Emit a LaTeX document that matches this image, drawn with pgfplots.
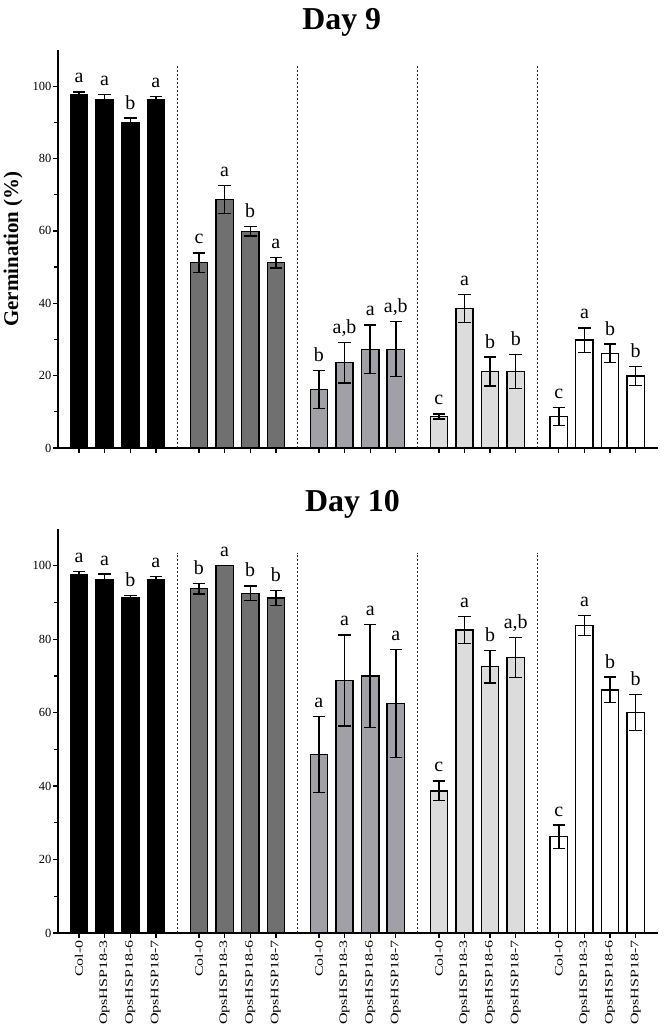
\documentclass[border=0pt]{standalone}
\usepackage{fontspec}
\setmainfont{Liberation Serif}
\newfontfamily\xtfont[FakeStretch=1.4]{Liberation Serif}
\usepackage{pgfplots}
\usepackage{pgfplotstable}
\pgfplotsset{compat=1.18}

\definecolor{gA}{RGB}{0,0,0}
\definecolor{gB}{RGB}{112,112,112}
\definecolor{gC}{RGB}{160,160,166}
\definecolor{gD}{RGB}{220,220,220}
\definecolor{gE}{RGB}{255,255,255}

% Day 9
\pgfplotstableread{
x y e lab
0 97.6 0.8 a
1 96.3 1.4 a
2 90.0 1.2 b
3 96.3 0.8 a
}\nA
\pgfplotstableread{
x y e lab
4.68 51.2 2.7 c
5.68 68.7 3.9 a
6.68 59.9 1.3 b
7.68 51.2 1.4 a
}\nB
\pgfplotstableread{
x y e lab
9.36 16.2 5.3 b
10.36 23.6 5.6 a,b
11.36 27.3 6.7 a
12.36 27.3 7.6 a,b
}\nC
\pgfplotstableread{
x y e lab
14.04 8.7 0.7 c
15.04 38.6 3.9 a
16.04 21.1 4.0 b
17.04 21.1 4.7 b
}\nD
\pgfplotstableread{
x y e lab
18.72 8.7 2.5 c
19.72 29.8 3.4 a
20.72 26.2 2.5 b
21.72 19.9 2.6 b
}\nE
% Day 10
\pgfplotstableread{
x y e lab
0 97.6 0.8 a
1 96.3 1.4 a
2 91.3 0.6 b
3 96.3 0.7 a
}\tA
\pgfplotstableread{
x y e lab
4.68 93.75 1.45 b
5.68 100 0 a
6.68 92.5 2.0 b
7.68 91.2 2.0 b
}\tB
\pgfplotstableread{
x y e lab
9.36 48.6 10.4 a
10.36 68.75 12.4 a
11.36 70.0 14.0 a
12.36 62.5 14.7 a
}\tC
\pgfplotstableread{
x y e lab
14.04 38.7 2.7 c
15.04 82.5 3.7 a
16.04 72.5 4.4 b
17.04 75.0 5.5 a,b
}\tD
\pgfplotstableread{
x y e lab
18.72 26.2 3.2 c
19.72 83.7 2.7 a
20.72 66.2 3.5 b
21.72 60.0 4.9 b
}\tE

\pgfplotsset{
  mybar/.style={ybar, bar width=0.675, bar shift=0pt, fill=#1, draw=black, line width=1.4bp,
    error bars/.cd, y dir=both, y explicit,
    error bar style={line width=1.4bp, black},
    error mark options={rotate=90, mark size=6.3bp, line width=1.4bp, black}},
  mylab/.style={draw=none, mark=none, nodes near coords, point meta=explicit symbolic,
    every node near coord/.append style={anchor=base, yshift=9bp, inner sep=0pt,
      font=\fontsize{20}{20}\selectfont, text=black}},
  myaxis/.style={
    scale only axis, width=600bp,
    xmin=-0.82, xmax=22.59, ymin=0, ymax=110,
    axis lines*=left, axis line style={-, line width=1.5bp, black},
    xtick={0,1,2,3,4.68,5.68,6.68,7.68,9.36,10.36,11.36,12.36,14.04,15.04,16.04,17.04,18.72,19.72,20.72,21.72},
    ytick={0,20,...,100}, minor y tick num=1,
    tick align=outside, major tick length=4.5bp, minor tick length=3.5bp,
    tick style={line width=1.3bp, black},
    yticklabel style={font=\fontsize{12.5}{12.5}\selectfont, inner sep=2pt},
    /pgf/number format/assume math mode=true,
    clip=false,
  },
}

\begin{document}
\begin{tikzpicture}
\path[use as bounding box] (0,0) rectangle (668bp,-1033bp);

\node[font=\bfseries\fontsize{32}{32}\selectfont, anchor=base] at (341.7bp,-29bp) {Day 9};
\node[font=\bfseries\fontsize{32}{32}\selectfont, anchor=base] at (352.5bp,-511.7bp) {Day 10};

\begin{axis}[myaxis, at={(58bp,-448bp)}, anchor=south west, height=398bp,
  xticklabels={},
  ylabel={Germination (\%)},
  ylabel style={font=\bfseries\fontsize{21}{21}\selectfont, at={(axis description cs:-0.075,0.5)}, anchor=center, rotate=0},
]
\foreach \xx in {3.84,8.52,13.2,17.88}{
  \edef\tmp{\noexpand\draw[dash pattern=on 2.5bp off 1.5bp, line width=0.9bp, black!85] (axis cs:\xx,0) -- (axis cs:\xx,105.5);}
  \tmp
}
\addplot[mybar=gA] table[x=x,y=y,y error=e]{\nA};
\addplot[mybar=gB] table[x=x,y=y,y error=e]{\nB};
\addplot[mybar=gC] table[x=x,y=y,y error=e]{\nC};
\addplot[mybar=gD] table[x=x,y=y,y error=e]{\nD};
\addplot[mybar=gE] table[x=x,y=y,y error=e]{\nE};
\addplot[mylab] table[x=x, y expr=\thisrow{y}+\thisrow{e}, meta=lab]{\nA};
\addplot[mylab] table[x=x, y expr=\thisrow{y}+\thisrow{e}, meta=lab]{\nB};
\addplot[mylab] table[x=x, y expr=\thisrow{y}+\thisrow{e}, meta=lab]{\nC};
\addplot[mylab] table[x=x, y expr=\thisrow{y}+\thisrow{e}, meta=lab]{\nD};
\addplot[mylab] table[x=x, y expr=\thisrow{y}+\thisrow{e}, meta=lab]{\nE};
\end{axis}

\begin{axis}[myaxis, at={(58bp,-933bp)}, anchor=south west, height=404bp,
  xticklabels={Col-0,OpsHSP18-3,OpsHSP18-6,OpsHSP18-7,Col-0,OpsHSP18-3,OpsHSP18-6,OpsHSP18-7,Col-0,OpsHSP18-3,OpsHSP18-6,OpsHSP18-7,Col-0,OpsHSP18-3,OpsHSP18-6,OpsHSP18-7,Col-0,OpsHSP18-3,OpsHSP18-6,OpsHSP18-7},
  xticklabel style={rotate=90, anchor=east, font=\xtfont\fontsize{11.5}{11.5}\selectfont, inner sep=2.5bp},
]
\foreach \xx in {3.84,8.52,13.2,17.88}{
  \edef\tmp{\noexpand\draw[dash pattern=on 2.5bp off 1.5bp, line width=0.9bp, black!85] (axis cs:\xx,0) -- (axis cs:\xx,103.5);}
  \tmp
}
\addplot[mybar=gA] table[x=x,y=y,y error=e]{\tA};
\addplot[mybar=gB] table[x=x,y=y,y error=e]{\tB};
\addplot[mybar=gC] table[x=x,y=y,y error=e]{\tC};
\addplot[mybar=gD] table[x=x,y=y,y error=e]{\tD};
\addplot[mybar=gE] table[x=x,y=y,y error=e]{\tE};
\addplot[mylab] table[x=x, y expr=\thisrow{y}+\thisrow{e}, meta=lab]{\tA};
\addplot[mylab] table[x=x, y expr=\thisrow{y}+\thisrow{e}, meta=lab]{\tB};
\addplot[mylab] table[x=x, y expr=\thisrow{y}+\thisrow{e}, meta=lab]{\tC};
\addplot[mylab] table[x=x, y expr=\thisrow{y}+\thisrow{e}, meta=lab]{\tD};
\addplot[mylab] table[x=x, y expr=\thisrow{y}+\thisrow{e}, meta=lab]{\tE};
\end{axis}
\end{tikzpicture}
\end{document}
